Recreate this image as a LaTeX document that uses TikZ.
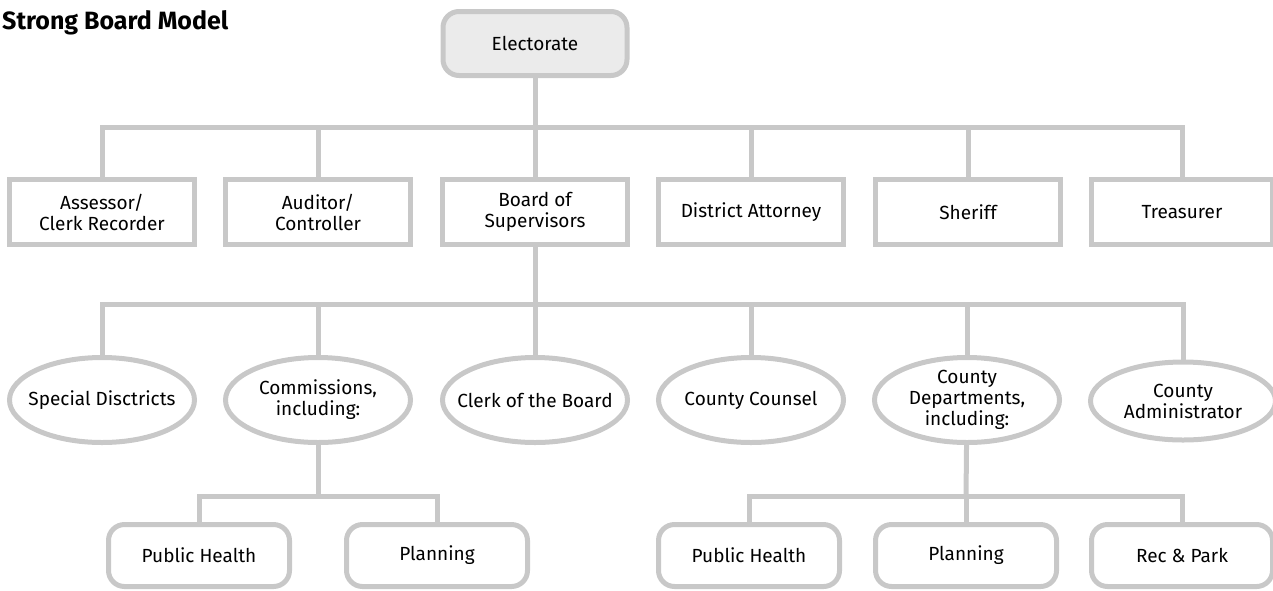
\documentclass[tikz,border=0pt]{standalone}
\usepackage{fontspec}
\setmainfont{Fira Sans}
\usetikzlibrary{shapes.geometric}
\definecolor{gris}{HTML}{C8C8C8}
\definecolor{grisclair}{HTML}{EBEBEB}

\begin{document}
\begin{tikzpicture}[x=1pt, y=-1pt]
			\tikzset{boite/.style={rectangle, draw=gris, line width=5pt, minimum width=185pt, minimum height=65pt, inner sep=0pt, align=center, font=\fontsize{19}{21}\selectfont},
			bulle/.style={ellipse, draw=gris, line width=5pt, minimum width=185pt, minimum height=85pt, inner xsep=-14pt, inner ysep=-3pt, align=center, font=\fontsize{19}{21}\selectfont},
			ronde/.style={boite, rounded corners=16pt, minimum width=181pt, minimum height=62pt},
			lien/.style={draw=gris, line width=5pt}};

			\useasboundingbox (0, 0) rectangle (1273, 590);

			\node[anchor=base west, inner sep=0pt, font=\fontsize{25}{29}\bfseries\selectfont] (titre) at (2, 29) {Strong Board Model};

			\node[ronde, fill=grisclair, minimum width=184pt, minimum height=64pt] (elec) at (535, 43.5) {Electorate};

			\node[boite] (asse) at (102, 212) {Assessor/\\Clerk Recorder};
			\node[boite] (audi) at (318, 212) {Auditor/\\Controller};
			\node[boite] (bos) at (535, 212) {Board of\\Supervisors};
			\node[boite] (da) at (751, 212) {District Attorney};
			\node[boite] (sher) at (968, 212) {Sheriff};
			\node[boite, minimum width=181pt] (tres) at (1182, 212) {Treasurer};

			\node[bulle] (spec) at (102, 400) {Special Disctricts};
			\node[bulle] (comm) at (318, 400) {Commissions,\\including:};
			\node[bulle] (cob) at (535, 400) {Clerk of the Board};
			\node[bulle] (cc) at (751, 400) {County Counsel};
			\node[bulle] (dept) at (967, 400) {County\\Departments,\\including:};
			\node[bulle, minimum height=78pt] (adm) at (1183, 401) {County\\Administrator};

			\node[ronde] (ph1) at (199, 555.5) {Public Health};
			\node[ronde] (pl1) at (437, 555.5) {Planning};
			\node[ronde] (ph2) at (749, 555.5) {Public Health};
			\node[ronde] (pl2) at (966, 555.5) {Planning};
			\node[ronde] (rec) at (1182, 555.5) {Rec \& Park};

			% barres
			\coordinate (b1) at (535, 127);
			\coordinate (b2) at (535, 304);
			\coordinate (b3) at (318, 496);
			\coordinate (b4) at (966, 496);

			\draw[lien] (elec) -- (b1);
			\foreach \n in {asse, audi, bos, da, sher, tres}{
				\draw[lien] (b1) -| (\n);
			}

			\draw[lien] (bos) -- (b2);
			\foreach \n in {spec, comm, cob, cc, dept, adm}{
				\draw[lien] (b2) -| (\n);
			}

			\draw[lien] (comm) -- (b3);
			\foreach \n in {ph1, pl1}{
				\draw[lien] (b3) -| (\n);
			}

			\draw[lien] (dept) -- (b4);
			\foreach \n in {ph2, pl2, rec}{
				\draw[lien] (b4) -| (\n);
			}
		\end{tikzpicture}
\end{document}
